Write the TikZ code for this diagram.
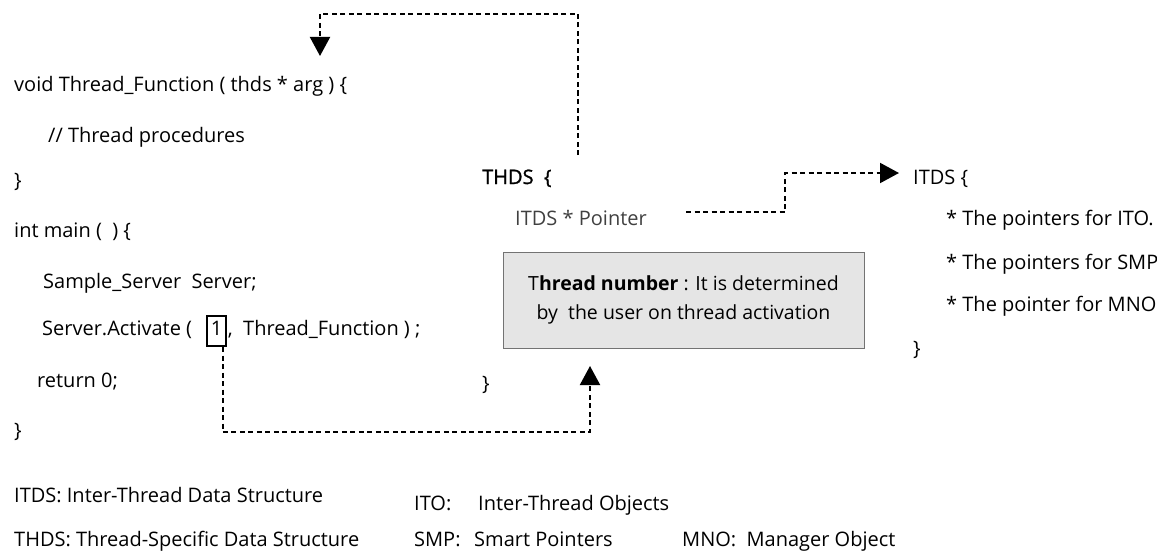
\documentclass[tikz,border=0pt]{standalone}
\usepackage{fontspec}
\setmainfont{Open Sans}
\newfontfamily\heavier{Open Sans}[FakeBold=1.2]
\usetikzlibrary{arrows.meta}
\begin{document}
\begin{tikzpicture}[x=1pt,y=-1pt,
  txt/.style={anchor=base west,inner sep=0pt,font=\fontsize{20}{24}\selectfont},
  link/.style={line width=2pt,dash pattern=on 5pt off 3.5pt},
  tip/.style={-{Triangle[length=19pt,width=20pt]}},
  notebox/.style={draw=black!55,fill=black!10,line width=0.8pt,minimum width=361pt,minimum height=96pt,
    align=center,font=\fontsize{19.5}{29}\selectfont}]
\useasboundingbox (0,0) rectangle (1157,551);

% thread function
\node[txt] (tf)   at (14,92)  {void Thread\_Function ( thds * arg ) \{};
\node[txt] (proc) at (48,142) {// Thread procedures};
\node[txt] (tfe)  at (14,187) {\}};

% main
\node[txt] (mn)   at (14,237) {int main (\ \ ) \{};
\node[txt] (srv)  at (43,288) {Sample\_Server\ \ Server;};
\node[txt] (act)  at (42,335) {Server.Activate (};
\node[txt,draw,line width=2pt,inner xsep=3.5pt,inner ysep=0pt,minimum height=30pt,text depth=6.5pt]
  (one) at ([xshift=14pt]act.base east) {1};
\node[txt] (act2) at ([xshift=1pt]one.base east) {,\ \ Thread\_Function ) ;};
\node[txt] (ret)  at (37,387) {return 0;};
\node[txt] (mne)  at (14,437) {\}};

% legend
\node[txt] (l1) at (14,502) {ITDS: Inter-Thread Data Structure};
\node[txt] (l2) at (14,546) {THDS: Thread-Specific Data Structure};
\node[txt] (l3) at (414,510) {ITO:};
\node[txt] (l3b) at (478,510) {Inter-Thread Objects};
\node[txt] (l4) at (414,546) {SMP:};
\node[txt] (l4b) at (474,546) {Smart Pointers};
\node[txt] (l5) at (682,546) {MNO:\ \ Manager Object};

% THDS structure
\node[txt,font=\fontsize{20}{24}\heavier] (thds) at (482,184) {THDS\ \ \{};
\node[txt,text=black!75] (ptr) at (515,225) {ITDS * Pointer};
\node[notebox] (note) at (683.5,300)
  {T\textbf{hread number} : It is determined\\ by\ \ the user on thread activation};
\node[txt] (thdse) at (482,390) {\}};

% ITDS structure
\node[txt] (itds) at (913,184) {ITDS \{};
\node[txt] (p1) at (946,225) {* The pointers for ITO.};
\node[txt] (p2) at (946,269) {* The pointers for SMP};
\node[txt] (p3) at (946,311) {* The pointer for MNO};
\node[txt] (itdse) at (913,355) {\}};

% connector anchors
\coordinate (upA) at (578,155);
\coordinate (dnA) at (320,56);
\coordinate (oneOut) at ([xshift=-4pt]one.south east);
\coordinate (dnB) at (590,366);
\coordinate (ptrR) at (686,212);
\coordinate (itdsIn) at (899,173);

% THDS -> thread function argument
\draw[link,tip] (upA) -- (578,14) -- (320,14) -- (dnA);
% thread number -> note
\draw[link,tip] (oneOut) -- (oneOut |- 0,432) -| (dnB);
% pointer -> ITDS
\draw[link,tip] (ptrR) -- (785,212) |- (itdsIn);
\end{tikzpicture}
\end{document}
